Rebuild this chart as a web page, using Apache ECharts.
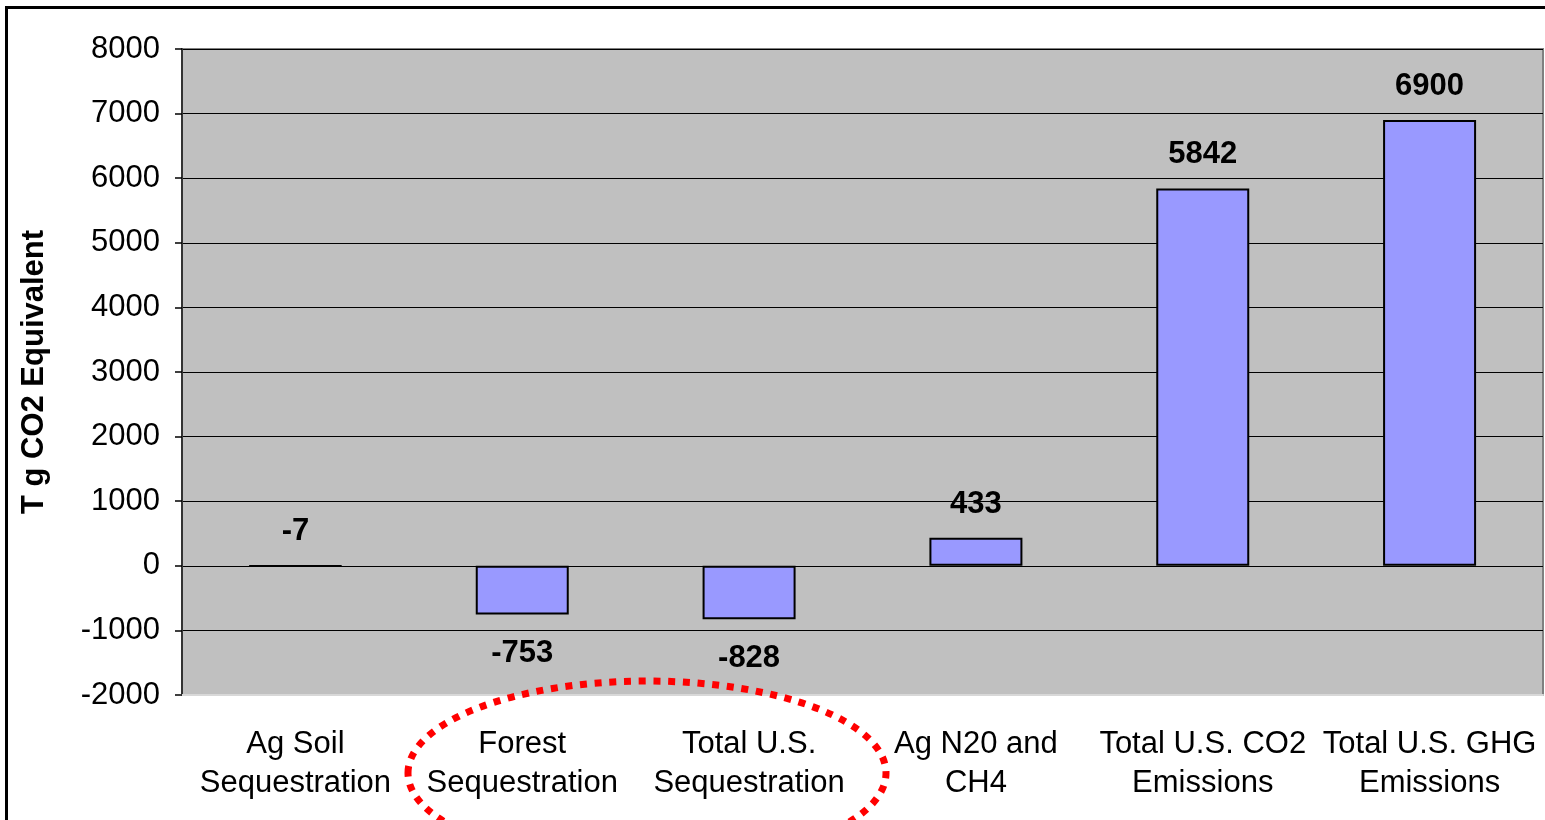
<!DOCTYPE html>
<html>
<head>
<meta charset="utf-8">
<script src="https://cdn.jsdelivr.net/npm/echarts@6/dist/echarts.min.js"></script>
<style>
html,body{margin:0;padding:0;background:#fff;}
#chart{width:1545px;height:820px;}
</style>
</head>
<body>
<div id="chart"></div>
<script>
const categories = ['Ag Soil\nSequestration', 'Forest\nSequestration', 'Total U.S.\nSequestration', 'Ag N20 and\nCH4', 'Total U.S. CO2\nEmissions', 'Total U.S. GHG\nEmissions'];
const values = [-7, -753, -828, 433, 5842, 6900];
const yMin = -2000, yMax = 8000, yStep = 1000;
const yAxisTitle = 'T g CO2 Equivalent';

const FONT = '"Liberation Sans", Arial, sans-serif';
const chart = echarts.init(document.getElementById('chart'), null, {renderer: 'canvas'});

const barData = values.map(v => {
  const below = v <= -100;
  return {
    value: v,
    label: {position: below ? 'bottom' : 'top', distance: below ? 24 : 18}
  };
});

chart.setOption({
  animation: false,
  backgroundColor: '#ffffff',
  textStyle: {fontFamily: FONT},
  grid: {
    left: 182, right: 2, top: 49, bottom: 125,
    show: true, backgroundColor: '#C0C0C0', borderColor: '#808080', borderWidth: 2
  },
  xAxis: {
    type: 'category',
    data: categories,
    position: 'bottom',
    axisLine: {onZero: false, lineStyle: {color: '#d8d8d8', width: 2}},
    axisTick: {show: false},
    axisLabel: {
      interval: 0, color: '#000', fontSize: 31, fontFamily: FONT,
      lineHeight: 39, margin: 30
    },
    splitLine: {show: false}
  },
  yAxis: {
    type: 'value',
    min: yMin, max: yMax, interval: yStep,
    name: yAxisTitle,
    nameLocation: 'middle',
    nameGap: 132,
    nameRotate: 90,
    nameTextStyle: {fontSize: 31, fontWeight: 'bold', color: '#000', fontFamily: FONT},
    axisLine: {show: true, lineStyle: {color: '#333', width: 2}},
    axisTick: {show: true, length: 7, lineStyle: {color: '#000', width: 1.5}},
    axisLabel: {color: '#000', fontSize: 31, fontFamily: FONT, margin: 22,
      formatter: v => String(v)},
    splitLine: {show: true, lineStyle: {color: '#000', width: 1.2}}
  },
  series: [{
    type: 'bar',
    data: barData,
    barWidth: 93,
    itemStyle: {color: '#9999FF', borderColor: '#000', borderWidth: 2},
    label: {
      show: true, distance: 18, color: '#000',
      fontSize: 31, fontWeight: 'bold', fontFamily: FONT
    }
  }],
  graphic: [
    {
      type: 'rect', silent: true,
      shape: {x: 6.5, y: 7.5, width: 3000, height: 3000},
      style: {fill: 'none', stroke: '#000', lineWidth: 3}
    },
    {
      type: 'ellipse', silent: true, z: 100,
      shape: {cx: 647, cy: 773, rx: 239, ry: 92},
      style: {fill: 'none', stroke: '#ff0000', lineWidth: 7, lineDash: [7, 7.7]}
    }
  ]
});
</script>
</body>
</html>
